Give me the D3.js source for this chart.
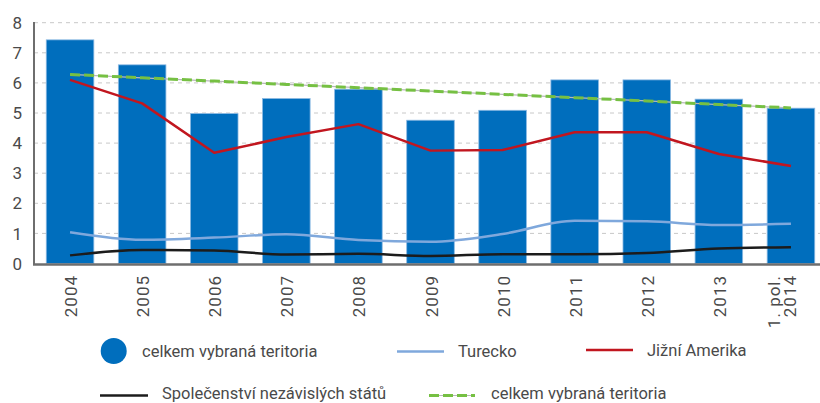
<!DOCTYPE html>
<html><head><meta charset="utf-8">
<script src="https://cdn.jsdelivr.net/npm/d3@7"></script>
<style>body{margin:0;background:#fff}svg{display:block}text{font-family:Roboto,"DejaVu Sans",sans-serif;fill:#4a4a4a}</style>
</head><body><svg id="c" width="820" height="403"></svg>
<script>
const categories = ["2004","2005","2006","2007","2008","2009","2010","2011","2012","2013","1. pol.|2014"];
const total = [7.43,6.60,4.98,5.48,5.79,4.76,5.09,6.10,6.10,5.46,5.16];
const turecko = [1.04,0.79,0.86,0.97,0.78,0.72,0.98,1.42,1.40,1.28,1.32];
const jizniAmerika = [6.10,5.32,3.68,4.20,4.63,3.75,3.77,4.36,4.36,3.64,3.24];
const sns = [0.27,0.45,0.43,0.30,0.32,0.25,0.31,0.31,0.35,0.50,0.54];
const trend = [6.28,6.17,6.06,5.95,5.84,5.73,5.62,5.51,5.40,5.28,5.17];
const yTicks = [0,1,2,3,4,5,6,7,8];

const svg = d3.select("#c");
const x = d3.scaleBand().domain(categories).range([34, 827]).paddingInner(0.34).paddingOuter(0.17);
const y = d3.scaleLinear().domain([0, 8]).range([263.5, 22.7]);
const cx = c => x(c) + x.bandwidth()/2;

// grid
svg.append("g").selectAll("line").data(yTicks.filter(d=>d>0)).join("line")
  .attr("x1", 34).attr("x2", 820).attr("y1", d=>y(d)).attr("y2", d=>y(d))
  .attr("stroke", "#c8c8c8").attr("stroke-width", 1).attr("stroke-dasharray", "4,4");

// bars
svg.append("g").selectAll("rect").data(categories).join("rect")
  .attr("x", c=>x(c)).attr("width", x.bandwidth())
  .attr("y", (c,i)=>y(total[i])).attr("height", (c,i)=>y(0)-y(total[i]))
  .attr("fill", "#006EBD").attr("stroke", "#8ab8e2").attr("stroke-width", 0.8);

const line = (arr, curve) => d3.line().x((d,i)=>cx(categories[i])).y(d=>y(d)).curve(curve)(arr);

svg.append("path").attr("d", line(trend, d3.curveLinear)).attr("fill","none").attr("stroke","#b8b8b8").attr("stroke-width",1.2);
svg.append("path").attr("d", line(trend, d3.curveLinear)).attr("fill","none").attr("stroke","#76C043").attr("stroke-width",3).attr("stroke-dasharray","10,4");
svg.append("path").attr("d", line(turecko, d3.curveMonotoneX)).attr("fill","none").attr("stroke","#7FA8DC").attr("stroke-width",2.5);
svg.append("path").attr("d", line(sns, d3.curveMonotoneX)).attr("fill","none").attr("stroke","#1c1c1c").attr("stroke-width",2.5);
svg.append("path").attr("d", line(jizniAmerika, d3.curveLinear)).attr("fill","none").attr("stroke","#C1161F").attr("stroke-width",2.5).attr("stroke-linejoin","round");

// axes
svg.append("line").attr("x1",34).attr("x2",34).attr("y1",22).attr("y2",264.5).attr("stroke","#6e6e6e").attr("stroke-width",2);
svg.append("line").attr("x1",33).attr("x2",820).attr("y1",264.5).attr("y2",264.5).attr("stroke","#6e6e6e").attr("stroke-width",2.5);

// y labels
svg.append("g").selectAll("text").data(yTicks).join("text")
  .attr("x", 22).attr("y", d=>y(d)).attr("dy","0.36em").attr("text-anchor","end")
  .attr("font-size", 17).text(d=>d);

// x labels
const xl = svg.append("g").selectAll("g").data(categories).join("g")
  .attr("transform", c=>`translate(${cx(c)+ (c.includes("|")?5:7)},275) rotate(-90)`);
xl.each(function(c){
  const parts = c.split("|");
  const t = d3.select(this).append("text").attr("text-anchor","end").attr("font-size",17).attr("letter-spacing","1px");
  parts.forEach((p,i)=>t.append("tspan").attr("x",0).attr("y",(i-(parts.length-1))*15.5).text(p));
});

// legend
const leg = svg.append("g").attr("font-size", 16.5);
leg.append("circle").attr("cx",113.7).attr("cy",351).attr("r",13).attr("fill","#006EBD");
leg.append("text").attr("x",142).attr("y",357).text("celkem vybraná teritoria");
leg.append("line").attr("x1",397).attr("x2",444).attr("y1",351.5).attr("y2",351.5).attr("stroke","#7FA8DC").attr("stroke-width",2.5);
leg.append("text").attr("x",458).attr("y",357).text("Turecko");
leg.append("line").attr("x1",586).attr("x2",633).attr("y1",350).attr("y2",350).attr("stroke","#C1161F").attr("stroke-width",2.5);
leg.append("text").attr("x",647).attr("y",355.5).text("Jižní Amerika");
leg.append("line").attr("x1",100).attr("x2",148).attr("y1",395.5).attr("y2",395.5).attr("stroke","#1c1c1c").attr("stroke-width",2.5);
leg.append("text").attr("x",162).attr("y",399).text("Společenství nezávislých států");
leg.append("line").attr("x1",429).attr("x2",475).attr("y1",395.5).attr("y2",395.5).attr("stroke","#b8b8b8").attr("stroke-width",1.2);
leg.append("line").attr("x1",429).attr("x2",475).attr("y1",395.5).attr("y2",395.5).attr("stroke","#76C043").attr("stroke-width",3).attr("stroke-dasharray","10,4");
leg.append("text").attr("x",491).attr("y",399).text("celkem vybraná teritoria");
</script></body></html>
